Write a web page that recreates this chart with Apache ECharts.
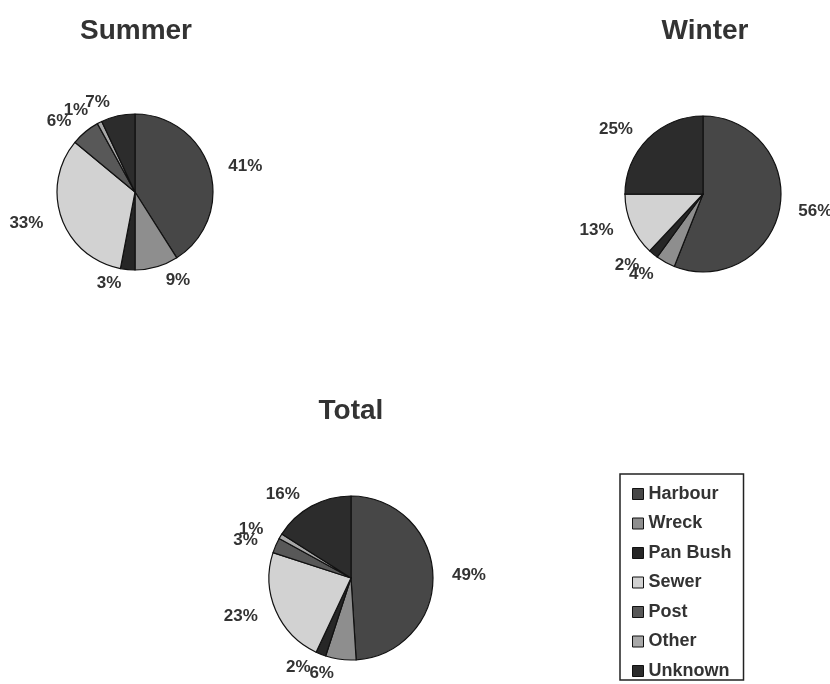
<!DOCTYPE html>
<html lang="en">
  <head>
    <meta charset="UTF-8" />
    <title>Sources by season</title>
    <script src="https://cdn.jsdelivr.net/npm/echarts@6/dist/echarts.min.js"></script>
    <style>
      html, body { margin: 0; padding: 0; background: #fff; }
      #chart { width: 830px; height: 684px; }
    </style>
  </head>
  <body>
    <div id="chart"></div>
    <script>
      var sources = ['Harbour', 'Wreck', 'Pan Bush', 'Sewer', 'Post', 'Other', 'Unknown'];
      var summer = [41, 9, 3, 33, 6, 1, 7];
      var winter = [56, 4, 2, 13, 0, 0, 25];
      var total = [49, 6, 2, 23, 3, 1, 16];

      // greys of the original print
      var colors = ['#474747', '#8e8e8e', '#262626', '#d2d2d2', '#585858', '#a8a8a8', '#2c2c2c'];
      var font = 'Liberation Sans, Arial, sans-serif';

      function pie(name, values, center, radius) {
        return {
          name: name,
          type: 'pie',
          center: center,
          radius: radius,
          startAngle: 90,
          clockwise: true,
          avoidLabelOverlap: false,
          animation: false,
          itemStyle: { borderColor: '#111', borderWidth: 1.2 },
          label: {
            show: true,
            position: 'outside',
            formatter: function (p) { return p.value ? p.value + '%' : ''; },
            fontFamily: font,
            fontWeight: 'bold',
            fontSize: 17,
            color: '#333'
          },
          labelLine: { show: false, length: 14, length2: 0 },
          labelLayout: { hideOverlap: false },
          emphasis: { disabled: true },
          data: sources.map(function (s, i) { return { name: s, value: values[i] }; })
        };
      }

      var chart = echarts.init(document.getElementById('chart'));
      var titleStyle = { fontFamily: font, fontWeight: 'bold', fontSize: 28, color: '#333' };
      chart.setOption({
        color: colors,
        title: [
          { text: 'Summer', left: 131, top: 12, textAlign: 'center', textStyle: titleStyle },
          { text: 'Winter', left: 700, top: 12, textAlign: 'center', textStyle: titleStyle },
          { text: 'Total', left: 346, top: 392, textAlign: 'center', textStyle: titleStyle }
        ],
        legend: {
          orient: 'vertical',
          left: 620,
          top: 474,
          width: 125,
          padding: [11, 12, 0, 12],
          itemGap: 11.5,
          itemWidth: 11,
          itemHeight: 11,
          icon: 'rect',
          borderColor: '#222',
          borderWidth: 1.5,
          itemStyle: { borderColor: '#111', borderWidth: 1 },
          textStyle: { fontFamily: font, fontWeight: 'bold', fontSize: 18, color: '#333' },
          data: sources
        },
        series: [
          pie('Summer', summer, [135, 192], 78),
          pie('Winter', winter, [703, 194], 78),
          pie('Total', total, [351, 578], 82)
        ]
      });
    </script>
  </body>
</html>
